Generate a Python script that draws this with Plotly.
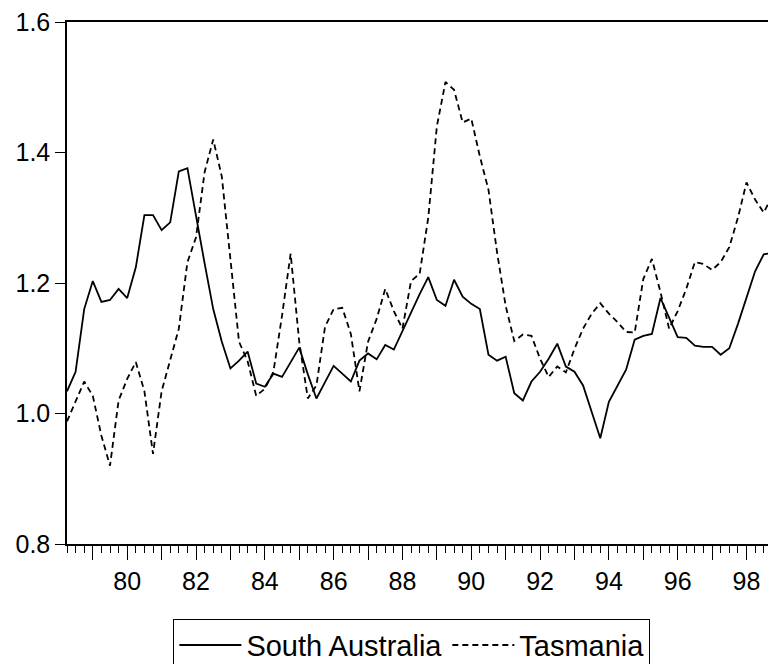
import plotly.graph_objects as go

# quarterly series, first observation 1978Q2
start_year = 1978.25

south_australia = [
    1.034, 1.064, 1.160, 1.203, 1.171, 1.174, 1.191, 1.177, 1.224, 1.304,
    1.304, 1.281, 1.293, 1.371, 1.376, 1.300, 1.230, 1.160, 1.110, 1.069,
    1.081, 1.095, 1.046, 1.041, 1.061, 1.056, 1.078, 1.101, 1.060, 1.023,
    1.048, 1.073, 1.061, 1.049, 1.081, 1.092, 1.083, 1.105, 1.098, 1.127,
    1.155, 1.183, 1.209, 1.174, 1.165, 1.205, 1.179, 1.168, 1.160, 1.090,
    1.081, 1.087, 1.031, 1.020, 1.049, 1.064, 1.084, 1.107, 1.072, 1.064,
    1.043, 1.003, 0.962, 1.018, 1.043, 1.067, 1.113, 1.119, 1.122, 1.177,
    1.147, 1.117, 1.116, 1.104, 1.102, 1.102, 1.090, 1.100, 1.137, 1.176,
    1.218, 1.244, 1.246,
]

tasmania = [
    0.988, 1.020, 1.049, 1.027, 0.966, 0.920, 1.020, 1.053, 1.079, 1.034,
    0.938, 1.034, 1.084, 1.130, 1.232, 1.270, 1.370, 1.420, 1.363, 1.240,
    1.110, 1.080, 1.027, 1.038, 1.064, 1.150, 1.245, 1.110, 1.023, 1.043,
    1.133, 1.160, 1.162, 1.122, 1.034, 1.110, 1.145, 1.191, 1.157, 1.130,
    1.203, 1.214, 1.300, 1.440, 1.508, 1.496, 1.446, 1.452, 1.394, 1.343,
    1.247, 1.165, 1.111, 1.121, 1.119, 1.084, 1.056, 1.072, 1.063, 1.099,
    1.130, 1.153, 1.169, 1.153, 1.140, 1.125, 1.124, 1.206, 1.237, 1.186,
    1.130, 1.157, 1.191, 1.232, 1.229, 1.220, 1.232, 1.255, 1.300, 1.354,
    1.328, 1.308, 1.333,
]

quarters = [start_year + 0.25 * i for i in range(len(south_australia))]

tick_years = list(range(1979, 2000))
tick_text = [str(y)[2:] if y % 2 == 0 else "" for y in tick_years]
y_ticks = [0.8, 1.0, 1.2, 1.4, 1.6]
y_text = ["0.8", "1.0", "1.2", "1.4", "1.6"]

fig = go.Figure()
fig.add_trace(go.Scatter(
    x=quarters, y=south_australia, mode="lines", name="South Australia",
    line=dict(color="black", width=1.8),
))
fig.add_trace(go.Scatter(
    x=quarters, y=tasmania, mode="lines", name="Tasmania",
    line=dict(color="black", width=1.8, dash="6px,4px"),
))

# the page body has an 8px margin, so the figure is offset by that much
fig.update_layout(
    width=776,
    height=664,
    margin=dict(l=59, r=0, t=14, b=126),
    paper_bgcolor="white",
    plot_bgcolor="white",
    font=dict(family="Liberation Sans, Arial, sans-serif", color="black"),
    legend=dict(
        orientation="h",
        x=0.481, xanchor="center",
        y=-0.143, yanchor="top",
        bordercolor="black", borderwidth=1,
        font=dict(size=29),
        itemwidth=62,
    ),
)
fig.update_xaxes(
    range=[1978.25, 1999.09],
    tickvals=tick_years, ticktext=tick_text,
    ticks="outside", ticklen=14, tickwidth=1, tickcolor="black",
    minor=dict(ticks="outside", dtick=0.25, tick0=1978, ticklen=7,
               tickcolor="black", showgrid=False),
    showline=True, linecolor="black", linewidth=1.5, mirror=True,
    showgrid=False, zeroline=False,
    tickfont=dict(size=25),
    ticklabeloverflow="allow",
)
fig.update_yaxes(
    range=[0.8, 1.6],
    tickvals=y_ticks, ticktext=y_text,
    ticks="outside", ticklen=10, tickcolor="black",
    showline=True, linecolor="black", linewidth=1.5,
    showgrid=False, zeroline=False,
    tickfont=dict(size=25),
    ticklabeloverflow="allow",
)

fig.write_html("out.html")
